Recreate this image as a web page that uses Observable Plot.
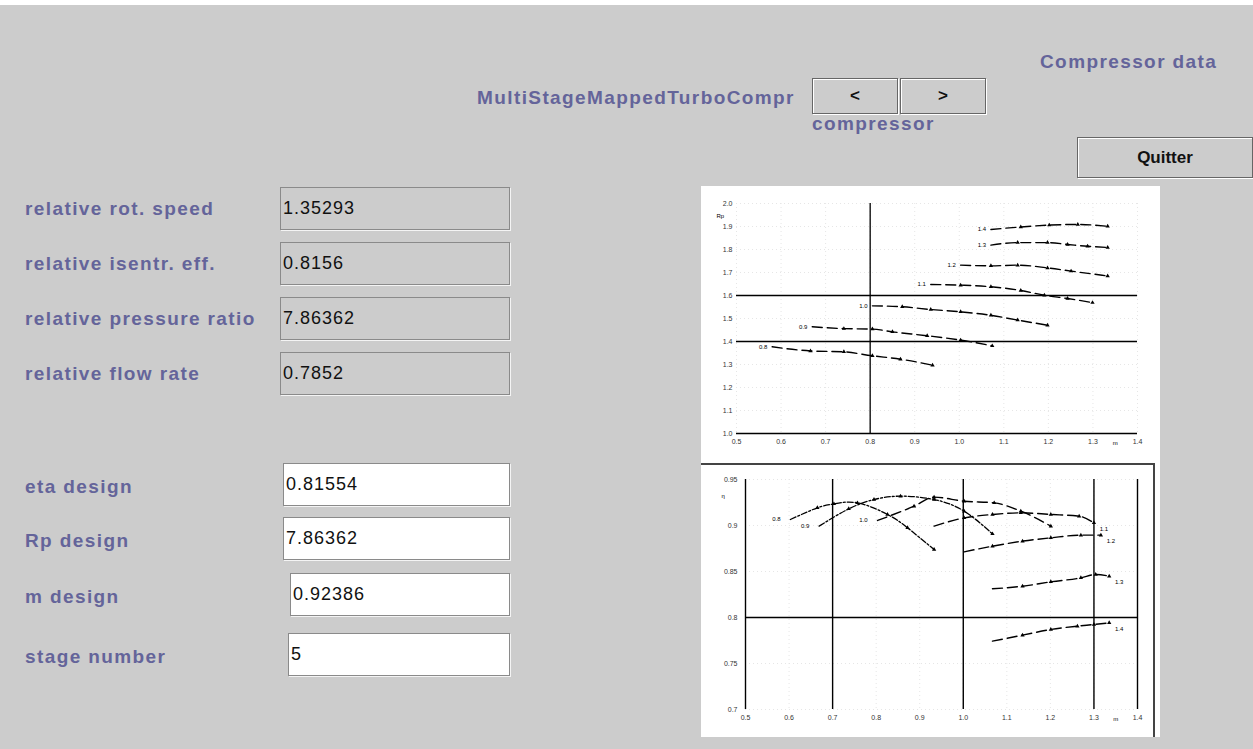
<!DOCTYPE html>
<html><head><meta charset="utf-8">
<script src="https://cdn.jsdelivr.net/npm/d3@7"></script>
<script src="https://cdn.jsdelivr.net/npm/@observablehq/plot@0.6"></script>
<style>
html,body{margin:0;padding:0;}
body{width:1253px;height:749px;background:#cccccc;position:relative;overflow:hidden;font-family:"Liberation Sans",Arial,sans-serif;}
.strip{position:absolute;left:0;top:0;width:1253px;height:5px;background:#fff;}
.lbl{position:absolute;color:#64649a;font-weight:bold;font-size:19px;letter-spacing:1.4px;white-space:nowrap;line-height:20px;}
.fld{position:absolute;box-sizing:border-box;height:43px;border:1px solid #8a8a8a;box-shadow:1px 1px 0 #f4f4f4;font-size:18px;letter-spacing:1px;color:#111;padding-left:2px;line-height:41px;}
.ro{background:#cccccc;}
.ed{background:#ffffff;}
.btn{position:absolute;box-sizing:border-box;background:#cccccc;border:1px solid #666;box-shadow:inset 1px 1px 0 #fff, 1px 1px 0 #fff;text-align:center;font-weight:bold;font-size:17px;color:#111;}
.panel{position:absolute;left:701px;top:186px;width:459px;height:551px;background:#fff;}
.chart{position:absolute;}
#bot{border-top:2px solid #444;border-right:2px solid #444;box-sizing:content-box;}
</style></head>
<body>
<div class="strip"></div>
<div id="ui"></div>
<div class="panel"></div>
<div class="chart" id="top" style="left:701px;top:186px;"></div>
<div class="chart" id="bot" style="left:701px;top:463px;"></div>
<script>
// ---- UI text ----
const readLabels = ["relative rot. speed","relative isentr. eff.","relative pressure ratio","relative flow rate"];
const readValues = ["1.35293","0.8156","7.86362","0.7852"];
const designLabels = ["eta design","Rp design","m design","stage number"];
const designValues = ["0.81554","7.86362","0.92386","5"];

// ---- chart ticks ----
const flowTicks = [0.5,0.6,0.7,0.8,0.9,1.0,1.1,1.2,1.3,1.4];
const rpTicks = [1,1.1,1.2,1.3,1.4,1.5,1.6,1.7,1.8,1.9,2];
const etaTicks = [0.7,0.75,0.8,0.85,0.9,0.95];
const speedNames = ["0.8","0.9","1.0","1.1","1.2","1.3","1.4"];

// ---- pressure-ratio map (relative flow, relative Rp) per speed line ----
const rpFlow08 = [0.580,0.666,0.741,0.805,0.868,0.940];
const rp08     = [1.377,1.359,1.355,1.338,1.323,1.297];
const rpFlow09 = [0.670,0.741,0.805,0.850,0.928,1.003,1.074];
const rp09     = [1.464,1.456,1.454,1.442,1.425,1.406,1.381];
const rpFlow10 = [0.805,0.872,0.936,1.003,1.071,1.131,1.198];
const rp10     = [1.555,1.551,1.539,1.529,1.514,1.493,1.471];
const rpFlow11 = [0.936,1.003,1.071,1.138,1.191,1.243,1.299];
const rp11     = [1.648,1.645,1.638,1.622,1.601,1.587,1.569];
const rpFlow12 = [1.003,1.071,1.131,1.198,1.251,1.333];
const rp12     = [1.732,1.729,1.732,1.720,1.706,1.685];
const rpFlow13 = [1.071,1.131,1.198,1.243,1.288,1.333];
const rp13     = [1.819,1.830,1.830,1.822,1.814,1.809];
const rpFlow14 = [1.071,1.138,1.202,1.266,1.333];
const rp14     = [1.887,1.898,1.906,1.909,1.901];

// ---- efficiency map (relative flow, relative eta) per speed line ----
const etaFlow08 = [0.603,0.665,0.703,0.757,0.826,0.872,0.933];
const eta08     = [0.9065,0.9192,0.9235,0.9246,0.912,0.8975,0.8739];
const etaFlow09 = [0.669,0.737,0.795,0.856,0.933,1.002,1.067];
const eta09     = [0.8993,0.9181,0.9282,0.9319,0.9282,0.9156,0.8909];
const etaFlow10 = [0.803,0.887,0.933,1.002,1.071,1.132,1.201];
const eta10     = [0.9054,0.921,0.9308,0.9264,0.9246,0.9156,0.8993];
const etaFlow11 = [0.933,1.002,1.067,1.132,1.201,1.266,1.300];
const eta11     = [0.8993,0.9083,0.912,0.9138,0.912,0.9101,0.9029];
const etaFlow12 = [1.002,1.067,1.136,1.201,1.270,1.316];
const eta12     = [0.8714,0.8775,0.883,0.8866,0.8895,0.8895];
const etaFlow13 = [1.067,1.136,1.201,1.270,1.304,1.335];
const eta13     = [0.8312,0.834,0.8388,0.8431,0.8467,0.8449];
const etaFlow14 = [1.067,1.136,1.201,1.262,1.300,1.335];
const eta14     = [0.7743,0.7808,0.787,0.7906,0.7924,0.7942];

// reference lines
const rpRefLines = [1.4, 1.6];
const rpRefFlow = [0.8];
const etaRefLines = [0.8];
const etaRefFlow = [0.5, 0.7, 1.0, 1.3, 1.4];

// ---- build UI ----
const ui = document.getElementById("ui");
function add(cls, text, css){ const d=document.createElement("div"); d.className=cls; d.textContent=text; Object.assign(d.style, css); ui.appendChild(d); return d; }
add("lbl","MultiStageMappedTurboCompr",{left:"477px",top:"88px"});
add("btn","<",{left:"812px",top:"78px",width:"86px",height:"36px",lineHeight:"34px"});
add("btn",">",{left:"900px",top:"78px",width:"86px",height:"36px",lineHeight:"34px"});
add("lbl","Compressor data",{left:"1040px",top:"52px"});
add("lbl","compressor",{left:"812px",top:"114px"});
add("btn","Quitter",{left:"1077px",top:"137px",width:"176px",height:"41px",lineHeight:"39px"});
const readTops=[187,242,297,352];
readLabels.forEach((t,i)=>{ add("lbl",t,{left:"25px",top:(readTops[i]+12)+"px"}); add("fld ro",readValues[i],{left:"280px",top:readTops[i]+"px",width:"230px"}); });
const desTops=[463,517,573,633];
const desLeft=[283,283,290,288];
designLabels.forEach((t,i)=>{ add("lbl",t,{left:"25px",top:(desTops[i]+14)+"px"}); add("fld ed",designValues[i],{left:desLeft[i]+"px",top:desTops[i]+"px",width:(510-desLeft[i])+"px"}); });

// ---- tables ----
function table(flows, vals){
  const out=[];
  flows.forEach((f,i)=>f.forEach((x,j)=>out.push({speed:speedNames[i], x, y:vals[i][j], j})));
  return out;
}
const rpData = table([rpFlow08,rpFlow09,rpFlow10,rpFlow11,rpFlow12,rpFlow13,rpFlow14],[rp08,rp09,rp10,rp11,rp12,rp13,rp14]);
const etaData = table([etaFlow08,etaFlow09,etaFlow10,etaFlow11,etaFlow12,etaFlow13,etaFlow14],[eta08,eta09,eta10,eta11,eta12,eta13,eta14]);
const rpStarts = rpData.filter(d=>d.j===0);
const etaLeft = etaData.filter(d=>d.j===0 && ["0.8","0.9","1.0"].includes(d.speed));
const etaRight = speedNames.slice(3).map(s=>{const a=etaData.filter(d=>d.speed===s); return a[a.length-1];});

const tickStyle = {background:"transparent", fontSize:"7px", color:"#333", fontFamily:"Liberation Sans, Arial, sans-serif"};

const topPlot = Plot.plot({
  width:459, height:277, marginLeft:35, marginRight:23, marginTop:17, marginBottom:30,
  style: tickStyle,
  x:{domain:[0.5,1.4], ticks:flowTicks, tickSize:0, tickPadding:6, tickFormat:d3.format(".1f"), label:null},
  y:{domain:[1,2], ticks:rpTicks, tickSize:0, tickPadding:4, tickFormat:d=>d3.format(".1f")(d), label:null},
  marks:[
    Plot.gridX(flowTicks,{stroke:"#e6e6e6", strokeOpacity:1, strokeDasharray:"1,3"}),
    Plot.gridY(rpTicks,{stroke:"#e6e6e6", strokeOpacity:1, strokeDasharray:"1,3"}),
    Plot.ruleY([1],{stroke:"#000", strokeWidth:1.5}),
    Plot.ruleY(rpRefLines,{stroke:"#000", strokeWidth:1.3}),
    Plot.ruleX(rpRefFlow,{y1:1, y2:2, stroke:"#000", strokeWidth:1.3}),
    Plot.line(rpData,{x:"x", y:"y", z:"speed", stroke:"#000", strokeWidth:1.4, strokeDasharray:"10,5", curve:"monotone-x"}),
    Plot.dot(rpData.filter(d=>d.j>0),{x:"x", y:"y", symbol:"triangle", r:1.6, fill:"#000"}),
    Plot.text(rpStarts,{x:"x", y:"y", text:"speed", dx:-9, fontSize:6, fill:"#000"}),
    Plot.text(["Rp"],{frameAnchor:"top-left", dx:-20, dy:10, fontSize:6, fill:"#000"}),
    Plot.text(["m"],{x:[1.35], y:[1], dy:10, fontSize:6, fill:"#000"})
  ]
});
document.getElementById("top").appendChild(topPlot);

const botPlot = Plot.plot({
  width:452, height:272, marginLeft:44, marginRight:16, marginTop:14, marginBottom:28,
  style: tickStyle,
  x:{domain:[0.5,1.4], ticks:flowTicks, tickSize:0, tickPadding:6, tickFormat:d3.format(".1f"), label:null},
  y:{domain:[0.7,0.95], ticks:etaTicks, tickSize:0, tickPadding:8, tickFormat:d=>d3.format(".2~f")(d), label:null},
  marks:[
    Plot.gridX(flowTicks,{stroke:"#e6e6e6", strokeOpacity:1, strokeDasharray:"1,3"}),
    Plot.gridY(etaTicks,{stroke:"#e6e6e6", strokeOpacity:1, strokeDasharray:"1,3"}),
    Plot.ruleY(etaRefLines,{stroke:"#000", strokeWidth:1.4}),
    Plot.ruleX(etaRefFlow,{y1:0.7, y2:0.95, stroke:"#000", strokeWidth:1.4}),
    Plot.line(etaData.filter(d=>["0.8","0.9"].includes(d.speed)),{x:"x", y:"y", z:"speed", stroke:"#000", strokeWidth:1.3, strokeDasharray:"6,2,2,2", curve:"natural"}),
    Plot.line(etaData.filter(d=>!["0.8","0.9"].includes(d.speed)),{x:"x", y:"y", z:"speed", stroke:"#000", strokeWidth:1.4, strokeDasharray:"10,5", curve:"monotone-x"}),
    Plot.dot(etaData.filter(d=>d.j>0),{x:"x", y:"y", symbol:"triangle", r:1.6, fill:"#000"}),
    Plot.text(etaLeft,{x:"x", y:"y", text:"speed", dx:-14, fontSize:6, fill:"#000"}),
    Plot.text(etaRight,{x:"x", y:"y", text:"speed", dx:10, dy:6, fontSize:6, fill:"#000"}),
    Plot.text(["η"],{frameAnchor:"top-left", dx:-24, dy:14, fontSize:6, fill:"#000"}),
    Plot.text(["m"],{x:[1.35], y:[0.7], dy:10, fontSize:6, fill:"#000"})
  ]
});
const bd = document.getElementById("bot");
bd.style.width="452px"; bd.style.height="272px"; bd.style.background="#fff";
bd.appendChild(botPlot);
</script>
</body></html>
